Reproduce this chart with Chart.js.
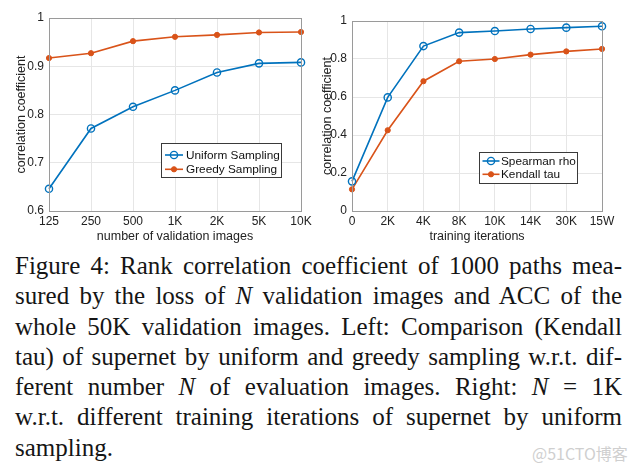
<!DOCTYPE html>
<html>
<head>
<meta charset="utf-8">
<script src="https://cdn.jsdelivr.net/npm/chart.js@4.4.1/dist/chart.umd.min.js"></script>
<style>
  body { margin: 0; background: #fff; width: 640px; height: 470px; overflow: hidden; position: relative; }
  #left { position: absolute; left: 0; top: 0; }
  #right { position: absolute; left: 300px; top: 0; }
  #caption { position: absolute; left: 15px; top: 251px; width: 607px; font-family: "Liberation Serif", serif; font-size: 25px; line-height: 30.3px; word-spacing: -3px; color: #151515; }
  #caption .j { text-align: justify; text-align-last: justify; }
  #wm { position: absolute; left: 532px; top: 441px; font-family: "Noto Sans CJK SC", sans-serif; font-size: 16px; color: #cfcfcf; }
</style>
</head>
<body>
<canvas id="left" width="320" height="245"></canvas>
<canvas id="right" width="340" height="245"></canvas>
<div id="caption">
  <div class="j">Figure 4: Rank correlation coefficient of 1000 paths mea-</div>
  <div class="j">sured by the loss of <i>N</i> validation images and ACC of the</div>
  <div class="j">whole 50K validation images. Left: Comparison (Kendall</div>
  <div class="j">tau) of supernet by uniform and greedy sampling w.r.t. dif-</div>
  <div class="j">ferent number <i>N</i> of evaluation images. Right: <i>N</i> = 1K</div>
  <div class="j">w.r.t. different training iterations of supernet by uniform</div>
  <div>sampling.</div>
</div>
<div id="wm">@51CTO博客</div>
<script>
// data
const valImages = ['125', '250', '500', '1K', '2K', '5K', '10K'];
const uniformSampling = [0.646, 0.771, 0.816, 0.850, 0.887, 0.906, 0.908];
const greedySampling = [0.917, 0.927, 0.952, 0.961, 0.965, 0.970, 0.971];

const trainIters = ['0', '2K', '4K', '8K', '10K', '14K', '30K', '15W'];
const spearmanRho = [0.156, 0.598, 0.868, 0.939, 0.947, 0.958, 0.965, 0.972];
const kendallTau = [0.114, 0.425, 0.683, 0.788, 0.800, 0.823, 0.840, 0.853];

const leftTicks = [0.6, 0.7, 0.8, 0.9, 1];
const rightTicks = [0, 0.2, 0.4, 0.6, 0.8, 1];

const BLUE = '#0072BD';
const ORANGE = '#D95319';
const FONT = '"Liberation Sans", Arial, sans-serif';

// axes box like matlab
const frame = {
    id: 'frame',
    afterDatasetsDraw(chart) {
        const ctx = chart.ctx, a = chart.chartArea;
        ctx.save();
        ctx.strokeStyle = '#9a9a9a';
        ctx.lineWidth = 1;
        ctx.strokeRect(Math.round(a.left) + 0.5, Math.round(a.top) + 0.5,
            Math.round(a.right - a.left), Math.round(a.bottom - a.top));
        ctx.restore();
    }
};

// legend box inside plot area
const boxLegend = {
    id: 'boxLegend',
    afterDraw(chart, args, o) {
        const ctx = chart.ctx, a = chart.chartArea;
        const x = Math.round(a.right - o.right - o.width);
        const y = Math.round(a.bottom - o.bottom - o.height);
        ctx.save();
        ctx.fillStyle = '#fff';
        ctx.fillRect(x, y, o.width, o.height);
        ctx.strokeStyle = '#3a3a3a';
        ctx.lineWidth = 1;
        ctx.strokeRect(x + 0.5, y + 0.5, o.width, o.height);
        ctx.font = '11.8px ' + FONT;
        ctx.textBaseline = 'middle';
        chart.data.datasets.forEach((ds, i) => {
            const cy = y + o.rowTop + i * o.rowGap;
            const x0 = x + o.lineStart, x1 = x0 + o.lineLen;
            ctx.strokeStyle = ds.borderColor;
            ctx.lineWidth = ds.borderWidth;
            ctx.beginPath();
            ctx.moveTo(x0, cy);
            ctx.lineTo(x1, cy);
            ctx.stroke();
            ctx.beginPath();
            ctx.arc((x0 + x1) / 2, cy, ds.pointRadius, 0, Math.PI * 2);
            ctx.fillStyle = ds.pointBackgroundColor;
            ctx.fill();
            ctx.lineWidth = ds.pointBorderWidth;
            ctx.strokeStyle = ds.pointBorderColor;
            ctx.stroke();
            ctx.fillStyle = '#111';
            ctx.fillText(ds.label, x + o.textX, cy + 0.5);
        });
        ctx.restore();
    }
};

function openSeries(label, data) {
    return {
        label: label, data: data,
        borderColor: BLUE, borderWidth: 1.6,
        pointRadius: 3.6, pointBorderWidth: 1.4,
        pointBorderColor: BLUE, pointBackgroundColor: 'rgba(255,255,255,0)',
        tension: 0, clip: false
    };
}
function dotSeries(label, data) {
    return {
        label: label, data: data,
        borderColor: ORANGE, borderWidth: 1.6,
        pointRadius: 2.6, pointBorderWidth: 1,
        pointBorderColor: ORANGE, pointBackgroundColor: ORANGE,
        tension: 0, clip: false
    };
}

function axes(xTitle, yMin, yMax, ticks, yWidth, yTitlePad) {
    return {
        x: {
            grid: { color: '#e6e6e6', drawTicks: false },
            border: { display: false },
            ticks: { padding: 3.5, color: '#222', font: { family: FONT, size: 12 }, maxRotation: 0, autoSkip: false },
            title: { display: true, text: xTitle, color: '#222', font: { family: FONT, size: 12.5 }, padding: { top: 0, bottom: 1 } },
            afterFit(s) { s.height = 34; }
        },
        y: {
            min: yMin, max: yMax,
            afterBuildTicks(s) { s.ticks = ticks.map(v => ({ value: v })); },
            grid: { color: '#e6e6e6', drawTicks: false },
            border: { display: false },
            ticks: { padding: 5, color: '#222', font: { family: FONT, size: 12 }, callback: v => String(+v.toFixed(2)) },
            title: { display: true, text: 'correlation coefficient', color: '#222', font: { family: FONT, size: 12.5 }, padding: { top: yTitlePad, bottom: 0 } },
            afterFit(s) { s.width = yWidth; }
        }
    };
}

new Chart(document.getElementById('left'), {
    type: 'line',
    data: {
        labels: valImages,
        datasets: [
            openSeries('Uniform Sampling', uniformSampling),
            dotSeries('Greedy Sampling', greedySampling)
        ]
    },
    options: {
        responsive: false,
        animation: false,
        layout: { padding: { top: 18, right: 19, left: 0, bottom: 0 } },
        plugins: {
            legend: { display: false },
            tooltip: { enabled: false },
            boxLegend: { right: 20, bottom: 34, width: 120, height: 34, rowTop: 12, rowGap: 14.3, lineStart: 4, lineLen: 18, textX: 25 }
        },
        scales: axes('number of validation images', 0.6, 1, leftTicks, 49, 14.5)
    },
    plugins: [frame, boxLegend]
});

new Chart(document.getElementById('right'), {
    type: 'line',
    data: {
        labels: trainIters,
        datasets: [
            openSeries('Spearman rho', spearmanRho),
            dotSeries('Kendall tau', kendallTau)
        ]
    },
    options: {
        responsive: false,
        animation: false,
        layout: { padding: { top: 21, right: 38, left: 0, bottom: 0 } },
        plugins: {
            legend: { display: false },
            tooltip: { enabled: false },
            boxLegend: { right: 25, bottom: 28, width: 98, height: 31, rowTop: 9, rowGap: 13.3, lineStart: 3.5, lineLen: 17, textX: 22 }
        },
        scales: axes('training iterations', 0, 1, rightTicks, 52, 20)
    },
    plugins: [frame, boxLegend]
});
</script>
</body>
</html>
